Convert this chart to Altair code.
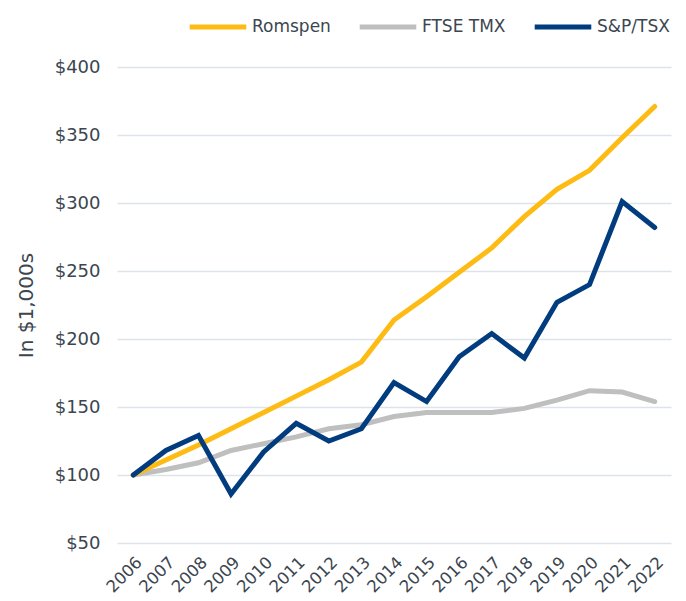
import altair as alt
import pandas as pd

years = [str(y) for y in range(2006, 2023)]
romspen = [100, 111, 122, 134, 146, 158, 170, 183, 214, 231, 249, 267, 290, 310, 324, 348, 371]
ftse = [100, 104, 109, 118, 123, 128, 134, 137, 143, 146, 146, 146, 149, 155, 162, 161, 154]
sptsx = [100, 118, 129, 86, 117, 138, 125, 134, 168, 154, 187, 204, 186, 227, 240, 301, 282]

series_names = ["Romspen", "FTSE TMX", "S&P/TSX"]
colors = ["#FDBB13", "#BFBFBF", "#003C7E"]

# draw order: FTSE bottom, Romspen, S&P top
rows = []
for name, vals, z in [("FTSE TMX", ftse, 0), ("Romspen", romspen, 1), ("S&P/TSX", sptsx, 2)]:
    for y, v in zip(years, vals):
        rows.append({"year": y, "value": v, "series": name, "z": z})
df = pd.DataFrame(rows)

font = "DejaVu Sans"
text_color = "#3b4650"

chart = alt.Chart(df).mark_line(strokeWidth=5, strokeCap="round", strokeJoin="miter").encode(
    x=alt.X("year:O", scale=alt.Scale(type="point", padding=0.5), sort=years,
            axis=alt.Axis(title=None, labelAngle=-45, domain=False, ticks=False, grid=False,
                          labelFontSize=16.5, labelColor=text_color, labelFont=font, labelPadding=11,
                          labelAlign="right", labelBaseline="top")),
    y=alt.Y("value:Q", scale=alt.Scale(domain=[50, 400], nice=False, zero=False),
            axis=alt.Axis(title="In $1,000s", values=[50, 100, 150, 200, 250, 300, 350, 400],
                          format="$,.0f", domain=False, ticks=False, gridColor="#dde3e8", gridWidth=1.5,
                          labelFontSize=18, labelColor=text_color, labelFont=font, labelPadding=17,
                          titleFontSize=20, titleFont=font, titleColor=text_color, titleFontWeight="normal",
                          titlePadding=18)),
    color=alt.Color("series:N", scale=alt.Scale(domain=series_names, range=colors),
                    legend=alt.Legend(title=None, orient="none", direction="horizontal",
                                      legendX=70, legendY=-71, padding=0, symbolType="stroke",
                                      symbolStrokeWidth=5, symbolSize=3200, columnPadding=18,
                                      gridAlign="none",
                                      labelFontSize=17, labelFont=font, labelColor=text_color,
                                      labelOffset=3)),
    detail="z:O",
).properties(
    width=554, height=476,
    autosize=alt.AutoSizeParams(type="none"),
    padding={"left": 109, "top": 59, "right": 7, "bottom": 58},
).configure_view(stroke=None)

chart.save("out.html", embed_options={"renderer": "svg", "actions": False})
